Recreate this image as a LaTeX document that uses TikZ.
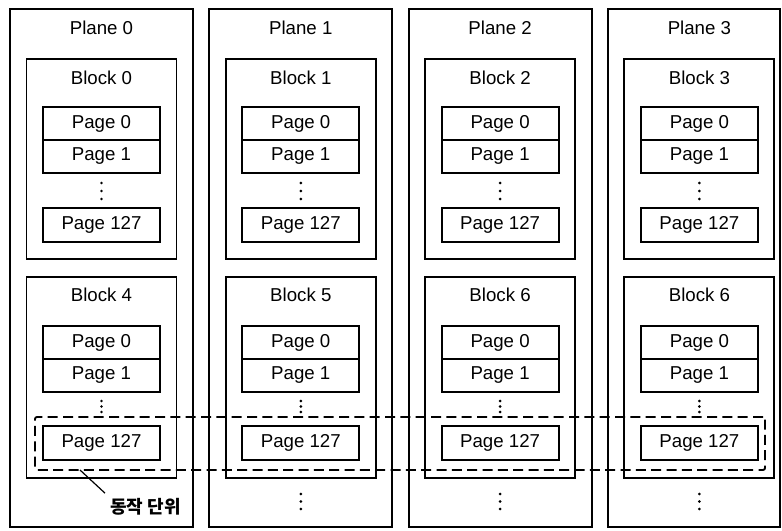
\documentclass[tikz,border=0pt]{standalone}
\usepackage{fontspec}
\setmainfont{Liberation Sans}
\newfontfamily\krfont{Noto Sans CJK KR}
\usetikzlibrary{positioning}

\begin{document}
\begin{tikzpicture}[x=0.75pt, y=-0.75pt, line width=1.4pt,
  font=\fontsize{14}{16}\selectfont,
  planebox/.style={draw, minimum height=388.5pt, inner sep=0pt},
  blockbox/.style={draw, minimum width=112.5pt, minimum height=150pt, inner sep=0pt},
  pagebox/.style={draw, minimum width=87.75pt, minimum height=24.75pt, inner sep=0pt, outer sep=0pt},
  unitbox/.style={draw, dash pattern=on 7.5pt off 4pt, rounded corners=1.5pt,
    minimum width=547.5pt, minimum height=39.75pt, inner sep=0pt}]
  \useasboundingbox (0,0) rectangle (782,531);

  % planes with their two blocks
  \foreach \i/\bt/\bb in {0/0/4, 1/1/5, 2/2/6, 3/3/6} {
    \pgfmathsetmacro{\cx}{101.5+199.3*\i}
    \pgfmathsetmacro{\pw}{\i==3 ? 129 : 137.25}
    \pgfmathsetmacro{\px}{\i==3 ? 694 : \cx}
    \node[planebox, minimum width=\pw pt] (plane\i) at (\px,268) {};
    \node (plab\i) at (\cx,28) {Plane \i};

    % upper block
    \node[blockbox] (upper\i) at (\cx,159) {};
    \node (ublab\i) at (\cx,78) {Block \bt};
    \node[pagebox] (up0\i) at (\cx,123.5) {Page 0};
    \node[pagebox, below=0pt of up0\i] (up1\i) {Page 1};
    \foreach \y in {183,191,199} \fill (\cx,\y) circle (1.1pt);
    \node[pagebox, minimum height=25.5pt] (upN\i) at (\cx,225) {Page 127};

    % lower block
    \node[blockbox, minimum height=150.75pt] (lower\i) at (\cx,377.5) {};
    \node (lblab\i) at (\cx,295) {Block \bb};
    \node[pagebox] (lo0\i) at (\cx,342.5) {Page 0};
    \node[pagebox, below=0pt of lo0\i] (lo1\i) {Page 1};
    \foreach \y in {401,406.5,412} \fill (\cx,\y) circle (1.1pt);
    \node[pagebox, minimum height=25.5pt] (loN\i) at (\cx,443) {Page 127};

    \ifnum\i>0
      \foreach \y in {494,501.5,509} \fill (\cx,\y) circle (1.1pt);
    \fi
  }

  % operation unit across the planes
  \node[unitbox] (unit) at (400,443.5) {};
  \coordinate (lead) at (80,470);
  \node[font=\krfont\bfseries\fontsize{13.5}{15}\selectfont, anchor=west] (opunit) at (105,507) {동작 단위};
  \draw[line width=0.9pt] (lead) -- (opunit.north west);
\end{tikzpicture}
\end{document}
